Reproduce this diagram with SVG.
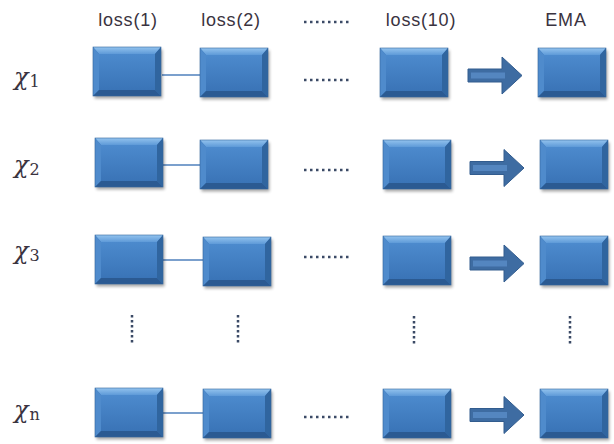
<svg xmlns="http://www.w3.org/2000/svg" xmlns:xlink="http://www.w3.org/1999/xlink" width="614" height="444" viewBox="0 0 614 444">
<style>
.hdr{font-family:"Liberation Sans",Arial,sans-serif;font-size:18px;letter-spacing:0.8px;fill:#3a3340;text-anchor:middle}
.chi{font-family:"DejaVu Serif","Liberation Serif",serif;font-style:italic;font-size:24px;fill:#3a3340}
.sub{font-family:"DejaVu Serif","Liberation Serif",serif;font-style:normal;font-size:16px}
.link{stroke:#4F81BD;stroke-width:1.5;fill:none}
.hdots{stroke:#3b4a66;stroke-width:2.5;stroke-dasharray:2.5 3.5;fill:none}
.vdots{stroke:#3b4a66;stroke-width:2.5;stroke-dasharray:2.5 2.5;fill:none}
</style>
<defs>
<filter id="sh" x="-20%" y="-20%" width="140%" height="150%"><feGaussianBlur stdDeviation="1.6"/></filter>
<linearGradient id="gTop" x1="0" y1="0" x2="0" y2="1"><stop offset="0" stop-color="#93C3EE"/><stop offset="1" stop-color="#5E9AD8"/></linearGradient>
<linearGradient id="gFace" x1="0" y1="0" x2="0" y2="1"><stop offset="0" stop-color="#4C8ACD"/><stop offset="1" stop-color="#3A74B7"/></linearGradient>
<g id="box">
<rect x="1.5" y="2.5" width="68" height="49" fill="#000" opacity="0.35" filter="url(#sh)"/>
<rect x="0" y="0" width="68" height="49" fill="#3D77B8"/>
<polygon points="0,0 68,0 62,7 6,7" fill="url(#gTop)"/>
<polygon points="0,0 6,7 6,43 0,49" fill="#4F8BCC"/>
<polygon points="68,0 68,49 62,43 62,7" fill="#30659F"/>
<polygon points="0,49 6,43 62,43 68,49" fill="#2B5A92"/>
<rect x="6" y="7" width="56" height="36" fill="url(#gFace)"/>
<rect x="0" y="0" width="68" height="49" fill="none" stroke="#34669F" stroke-width="0.6"/>
</g>
<g id="arrow">
<path d="M0,-6.5 H34 V-18.5 L54,0 L34,18.5 V6.5 H0 Z" fill="#3E6CA2" stroke="#325C8E" stroke-width="1"/>
<rect x="3" y="-3" width="34" height="6" fill="#5A8DC8" opacity="0.8"/>
</g>
</defs>
<rect width="614" height="444" fill="#ffffff"/>

<g id="headers">
<text class="hdr" x="128" y="26">loss(1)</text>
<text class="hdr" x="231" y="26">loss(2)</text>
<text class="hdr" x="421" y="26">loss(10)</text>
<text class="hdr" x="566" y="26">EMA</text>
</g>

<g id="row-labels">
<text class="chi" x="14" y="85">χ<tspan class="sub" dx="1" dy="2">1</tspan></text>
<text class="chi" x="14" y="173">χ<tspan class="sub" dx="1" dy="2">2</tspan></text>
<text class="chi" x="14" y="259">χ<tspan class="sub" dx="1" dy="2">3</tspan></text>
<text class="chi" x="14" y="418">χ<tspan class="sub" dx="1" dy="2" font-style="italic">n</tspan></text>
</g>

<g id="connectors">
<line class="link" x1="162" y1="75" x2="200" y2="75"/>
<line class="link" x1="162" y1="165" x2="200" y2="165"/>
<line class="link" x1="163" y1="260" x2="203" y2="260"/>
<line class="link" x1="163" y1="413" x2="203" y2="413"/>
<use href="#arrow" xlink:href="#arrow" x="468" y="75.5"/>
<use href="#arrow" xlink:href="#arrow" x="470" y="168"/>
<use href="#arrow" xlink:href="#arrow" x="470" y="263.5"/>
<use href="#arrow" xlink:href="#arrow" x="470" y="415"/>
<path class="hdots" d="M304,22 H352 M304,80 H352 M304,170 H352 M304,257 H352 M304,417 H352"/>
<path class="vdots" d="M132,315 V345 M238,315 V345 M414,316 V346 M570,316 V346"/>
</g>

<g id="row1">
<g id="b11"><use href="#box" xlink:href="#box" x="93" y="47"/></g>
<g id="b12"><use href="#box" xlink:href="#box" x="200" y="48"/></g>
<g id="b13"><use href="#box" xlink:href="#box" x="380" y="48"/></g>
<g id="b14"><use href="#box" xlink:href="#box" x="538" y="48"/></g>
</g>
<g id="row2">
<g id="b21"><use href="#box" xlink:href="#box" x="95" y="138"/></g>
<g id="b22"><use href="#box" xlink:href="#box" x="200" y="140"/></g>
<g id="b23"><use href="#box" xlink:href="#box" x="383" y="140"/></g>
<g id="b24"><use href="#box" xlink:href="#box" x="540" y="140"/></g>
</g>
<g id="row3">
<g id="b31"><use href="#box" xlink:href="#box" x="95" y="235"/></g>
<g id="b32"><use href="#box" xlink:href="#box" x="203" y="237"/></g>
<g id="b33"><use href="#box" xlink:href="#box" x="383" y="236"/></g>
<g id="b34"><use href="#box" xlink:href="#box" x="540" y="236"/></g>
</g>
<g id="rown">
<g id="bn1"><use href="#box" xlink:href="#box" x="95" y="388"/></g>
<g id="bn2"><use href="#box" xlink:href="#box" x="203" y="389"/></g>
<g id="bn3"><use href="#box" xlink:href="#box" x="383" y="389"/></g>
<g id="bn4"><use href="#box" xlink:href="#box" x="540" y="389"/></g>
</g>
</svg>
